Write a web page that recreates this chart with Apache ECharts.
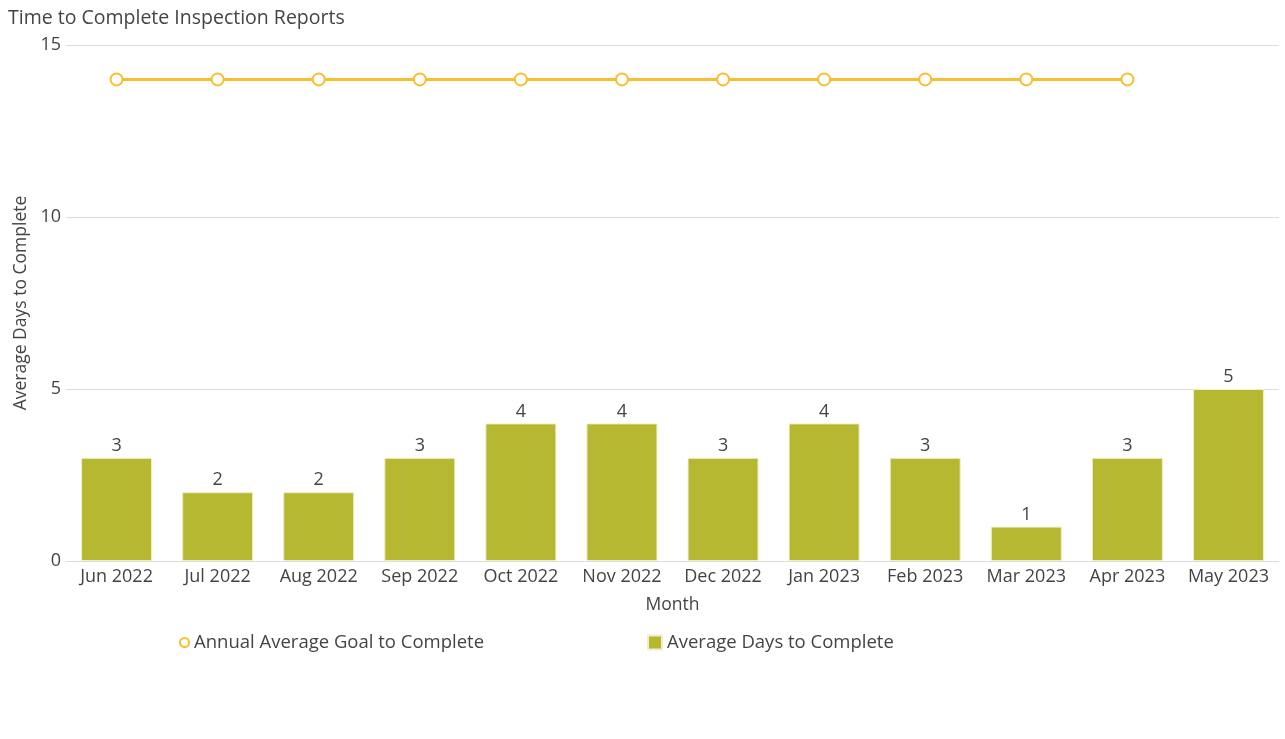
<!DOCTYPE html>
<html><head><meta charset="utf-8">
<script src="https://cdn.jsdelivr.net/npm/echarts@6/dist/echarts.min.js"></script>
<style>html,body{margin:0;padding:0;background:#fff}#c{width:1285px;height:739px}</style>
</head><body><div id="c"></div>
<script>
const categories = ['Jun 2022','Jul 2022','Aug 2022','Sep 2022','Oct 2022','Nov 2022','Dec 2022','Jan 2023','Feb 2023','Mar 2023','Apr 2023','May 2023'];
const avgDays = [3,2,2,3,4,4,3,4,3,1,3,5];
const goalDays = [14,14,14,14,14,14,14,14,14,14,14,null];
const yTicks = [0,5,10,15];

const font = '"Open Sans", sans-serif';
const chart = echarts.init(document.getElementById('c'), null, {renderer:'canvas'});
chart.setOption({
  animation:false,
  textStyle:{fontFamily:font},
  title:{text:'Time to Complete Inspection Reports', left:3, top:3,
    textStyle:{fontFamily:font, fontSize:19.5, fontWeight:'normal', color:'#444'}},
  grid:{left:66, right:6, top:45, bottom:178},
  legend:[
    {data:[{name:'Annual Average Goal to Complete', icon:'circle'}], left:174, top:628,
     itemWidth:9, itemHeight:9, itemGap:6,
     textStyle:{fontFamily:font, fontSize:18.5, color:'#444'}},
    {data:[{name:'Average Days to Complete', icon:'rect'}], left:642, top:628,
     itemWidth:14, itemHeight:14,
     textStyle:{fontFamily:font, fontSize:18.5, color:'#444'}}
  ],
  xAxis:{type:'category', data:categories, name:'Month', nameLocation:'middle', nameGap:35,
    nameTextStyle:{fontFamily:font, fontSize:17.5, color:'#444'},
    axisLine:{lineStyle:{color:'#ddd'}}, axisTick:{show:false},
    axisLabel:{fontFamily:font, fontSize:18, color:'#444', margin:7, interval:0, hideOverlap:false}},
  yAxis:{type:'value', min:yTicks[0], max:yTicks[yTicks.length-1], interval:5,
    name:'Average Days to Complete', nameLocation:'middle', nameGap:27,
    nameTextStyle:{fontFamily:font, fontSize:17.5, color:'#444'},
    axisLine:{show:false}, axisTick:{show:false},
    axisLabel:{fontFamily:font, fontSize:18, color:'#444', margin:5},
    splitLine:{lineStyle:{color:'#ddd'}}},
  series:[
    {name:'Annual Average Goal to Complete', type:'line', data:goalDays, z:3,
     symbol:'circle', symbolSize:12, showAllSymbol:true,
     itemStyle:{color:'#fff', borderColor:'#f5bf2f', borderWidth:2},
     lineStyle:{color:'#f5bf2f', width:3}},
    {name:'Average Days to Complete', type:'bar', data:avgDays, barWidth:71,
     itemStyle:{color:'#b7b832', borderColor:'#eef0c8', borderWidth:1},
     label:{show:true, position:'top', distance:3, fontFamily:font, fontSize:18, color:'#444'}}
  ]
});
</script></body></html>
